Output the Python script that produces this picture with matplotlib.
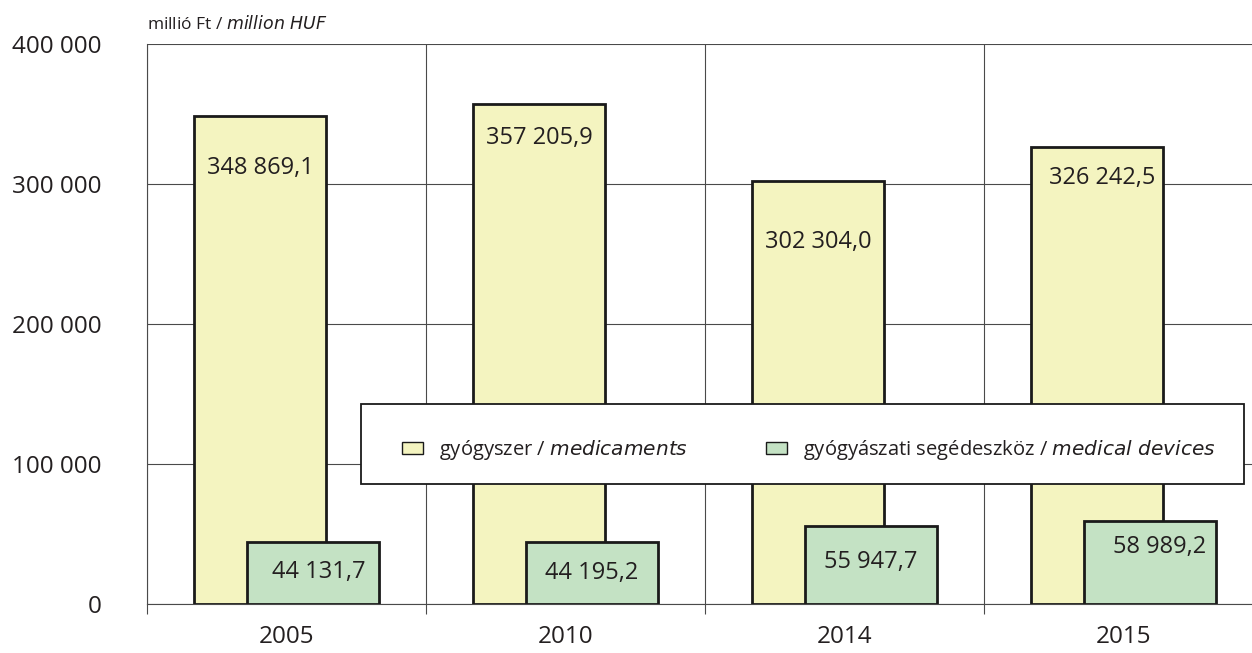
import matplotlib
matplotlib.use('Agg')
from matplotlib import pyplot as plt
from matplotlib.patches import Rectangle
import numpy as np

years = ['2005', '2010', '2014', '2015']
medicaments = [348869.1, 357205.9, 302304.0, 326242.5]
devices = [44131.7, 44195.2, 55947.7, 58989.2]
med_labels = ['348 869,1', '357 205,9', '302 304,0', '326 242,5']
dev_labels = ['44 131,7', '44 195,2', '55 947,7', '58 989,2']
# where the value labels sit (data units), as in the original
med_label_y = [311400, 332900, 258600, 304300]
dev_label_y = [22900, 22100, 30000, 40700]
dev_label_dx = [0.02, 0.0, 0.0, 0.035]
med_label_dx = [0.0, 0.0, 0.0, 0.018]
yticks = [0, 100000, 200000, 300000, 400000]
ytick_labels = ['0', '100 000', '200 000', '300 000', '400 000']

yellow = '#F4F4C0'
green = '#C4E2C4'
grid_c = '#4a4a4a'
txt_c = '#231F20'

plt.rcParams['font.family'] = ['Open Sans', 'DejaVu Sans']

W, H = 1252, 653
fig = plt.figure(figsize=(W / 100, H / 100), dpi=100)
ax = fig.add_axes([147 / W, (H - 604) / H, 1116 / W, 560 / H])

x = np.arange(len(years))
bw = 0.476
off = 0.095
b1 = ax.bar(x - off, medicaments, bw, color=yellow, edgecolor='#1a1a1a', lw=2.0, zorder=3,
            label='gyógyszer / $\\it{medicaments}$')
b2 = ax.bar(x + off, devices, bw, color=green, edgecolor='#1a1a1a', lw=2.0, zorder=4,
            label='gyógyászati segédeszköz / $\\it{medical\\ devices}$')

for i in range(len(years)):
    ax.text(x[i] - off + med_label_dx[i], med_label_y[i], med_labels[i], ha='center', va='center',
            fontsize=17, color=txt_c, zorder=5)
    ax.text(x[i] + off + dev_label_dx[i], dev_label_y[i], dev_labels[i], ha='center', va='center',
            fontsize=17, color=txt_c, zorder=5)

ax.set_xlim(-0.5, len(years) - 0.5)
ax.set_ylim(0, 400000)
ax.set_yticks(yticks)
ax.set_yticklabels(ytick_labels, fontsize=17.5, color=txt_c)
ax.set_xticks(x)
ax.set_xticklabels(years, fontsize=17.5, color=txt_c)
ax.set_xticks(np.arange(-0.5, len(years), 1.0), minor=True)
ax.tick_params(axis='y', length=0, pad=33)
ax.tick_params(axis='x', which='major', length=0, pad=15)
ax.tick_params(axis='x', which='minor', length=7, width=0.8, color=grid_c, direction='out')
ax.grid(axis='y', color=grid_c, lw=0.8, zorder=1)
ax.grid(axis='x', which='minor', color=grid_c, lw=0.8, zorder=1)
ax.grid(axis='x', which='major', visible=False)
for s in ['top', 'right']:
    ax.spines[s].set_visible(False)
for s in ['left', 'bottom']:
    ax.spines[s].set_color(grid_c)
    ax.spines[s].set_linewidth(0.8)

fig.text(147 / W, 1 - 24 / H, 'millió Ft / $\\it{million\\ HUF}$', fontsize=12.5, color=txt_c,
         ha='left', va='center')

# legend box
box = Rectangle((361 / W, (H - 484) / H), 883 / W, 80 / H, transform=fig.transFigure,
                facecolor='white', edgecolor='#1a1a1a', lw=1.3, zorder=4)
fig.patches.append(box)

leg = fig.legend(handles=[b1, b2], loc='center', ncol=2, mode='expand',
                 bbox_to_anchor=(402 / W, (H - 490) / H, 814 / W, 80 / H),
                 fontsize=14.5, frameon=False, borderpad=0,
                 handlelength=1.05, handleheight=0.55, handletextpad=0.8, borderaxespad=0)
leg.set_zorder(6)
for t in leg.get_texts():
    t.set_color(txt_c)
for h in leg.legend_handles:
    h.set_linewidth(1.0)

fig.savefig('out.png', dpi=100)
